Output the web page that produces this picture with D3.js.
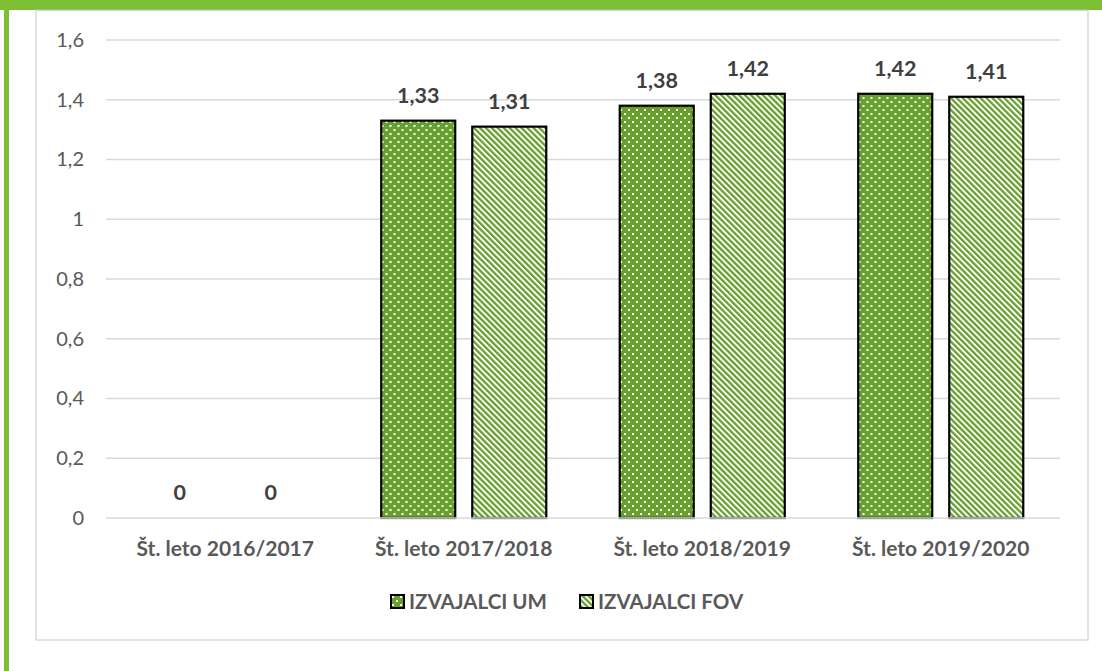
<!DOCTYPE html>
<html>
<head>
<meta charset="utf-8">
<script src="https://cdn.jsdelivr.net/npm/d3@7"></script>
<style>
  body { margin: 0; background: #fff; }
  text { font-family: Lato, "Open Sans", sans-serif; }
</style>
</head>
<body>
<div id="chart"></div>
<script>
// data
var categories = ["Št. leto 2016/2017", "Št. leto 2017/2018", "Št. leto 2018/2019", "Št. leto 2019/2020"];
var seriesNames = ["IZVAJALCI UM", "IZVAJALCI FOV"];
var umValues = [0, 1.33, 1.38, 1.42];
var fovValues = [0, 1.31, 1.42, 1.41];
var yTicks = [0, 0.2, 0.4, 0.6, 0.8, 1, 1.2, 1.4, 1.6];

function drawChart() {
  var svgWidth = 1102, svgHeight = 671;
  var green = "#7cbf35";
  var barGreen = "#67a02c";

  var svg = d3.select("#chart").append("svg")
    .attr("width", svgWidth)
    .attr("height", svgHeight);

  // patterns
  var defs = svg.append("defs");
  var dots = defs.append("pattern")
    .attr("id", "dots")
    .attr("patternUnits", "userSpaceOnUse")
    .attr("width", 8).attr("height", 8);
  dots.append("rect").attr("width", 8).attr("height", 8).attr("fill", barGreen);
  dots.append("rect").attr("x", 1).attr("y", 1).attr("width", 2).attr("height", 2).attr("fill", "#fff");
  dots.append("rect").attr("x", 5).attr("y", 5).attr("width", 2).attr("height", 2).attr("fill", "#fff");

  var stripes = defs.append("pattern")
    .attr("id", "stripes")
    .attr("patternUnits", "userSpaceOnUse")
    .attr("width", 4.2).attr("height", 4.2)
    .attr("patternTransform", "rotate(-45)");
  stripes.append("rect").attr("width", 4.2).attr("height", 4.2).attr("fill", "#fff");
  stripes.append("rect").attr("width", 2.3).attr("height", 4.2).attr("fill", barGreen);

  // frame decoration
  svg.append("rect").attr("x", 0).attr("y", 0).attr("width", svgWidth).attr("height", 10).attr("fill", green);
  svg.append("rect").attr("x", 4).attr("y", 0).attr("width", 5).attr("height", svgHeight).attr("fill", green);
  svg.append("rect")
    .attr("x", 36).attr("y", 10.5)
    .attr("width", 1052).attr("height", 629.5)
    .attr("fill", "#fff")
    .attr("stroke", "#d9d9d9")
    .attr("stroke-width", 1.5);

  var margin = { left: 106, right: 1060, top: 40, bottom: 518 };

  var y = d3.scaleLinear().domain([0, 1.6]).range([margin.bottom, margin.top]);
  var x0 = d3.scaleBand().domain(categories).range([margin.left, margin.right]).padding(0);
  var bw = x0.bandwidth();
  var x1 = d3.scaleBand().domain(seriesNames)
    .range([bw * 0.154, bw * 0.846])
    .paddingInner(0.187);

  var fmt = function(v) { return String(v).replace(".", ","); };

  // gridlines
  svg.append("g").selectAll("line")
    .data(yTicks.filter(function(d) { return d > 0; }))
    .enter().append("line")
    .attr("x1", margin.left).attr("x2", margin.right)
    .attr("y1", function(d) { return y(d); })
    .attr("y2", function(d) { return y(d); })
    .attr("stroke", "#d9d9d9")
    .attr("stroke-width", 1.5);

  // y axis labels
  var yAxis = d3.axisLeft(y).tickValues(yTicks).tickSize(0).tickPadding(0).tickFormat(fmt);
  var gy = svg.append("g").attr("transform", "translate(84,0)").call(yAxis);
  gy.select(".domain").remove();
  gy.selectAll("text")
    .attr("font-size", 20)
    .attr("fill", "#595959")
    .style("font-family", "Lato, sans-serif");

  // bars
  var rows = categories.map(function(c, i) {
    return { cat: c, vals: [
      { key: seriesNames[0], v: umValues[i], fill: "url(#dots)" },
      { key: seriesNames[1], v: fovValues[i], fill: "url(#stripes)" }
    ]};
  });

  var groups = svg.append("g").selectAll("g")
    .data(rows)
    .enter().append("g")
    .attr("transform", function(d) { return "translate(" + x0(d.cat) + ",0)"; });

  groups.selectAll("rect")
    .data(function(d) { return d.vals.filter(function(e) { return e.v > 0; }); })
    .enter().append("rect")
    .attr("x", function(d) { return x1(d.key); })
    .attr("y", function(d) { return y(d.v); })
    .attr("width", x1.bandwidth())
    .attr("height", function(d) { return margin.bottom - y(d.v); })
    .attr("fill", function(d) { return d.fill; })
    .attr("stroke", "#000")
    .attr("stroke-width", 2.2);

  groups.selectAll("text.val")
    .data(function(d) { return d.vals; })
    .enter().append("text")
    .attr("class", "val")
    .attr("x", function(d) { return x1(d.key) + x1.bandwidth() / 2; })
    .attr("y", function(d) { return y(d.v) - 18; })
    .attr("text-anchor", "middle")
    .attr("font-size", 21.5)
    .attr("font-weight", "bold")
    .attr("fill", "#404040")
    .text(function(d) { return fmt(d.v); });

  // x axis
  svg.append("line")
    .attr("x1", margin.left).attr("x2", margin.right)
    .attr("y1", margin.bottom).attr("y2", margin.bottom)
    .attr("stroke", "#d9d9d9")
    .attr("stroke-width", 1.5);

  var xAxis = d3.axisBottom(x0).tickSize(0).tickPadding(0);
  var gx = svg.append("g").attr("transform", "translate(0," + (margin.bottom + 38) + ")").call(xAxis);
  gx.select(".domain").remove();
  gx.selectAll("text")
    .attr("dy", 0)
    .attr("font-size", 21)
    .attr("font-weight", "bold")
    .attr("fill", "#595959")
    .style("font-family", "Lato, sans-serif");

  // legend
  var legendItems = [
    { name: seriesNames[0], fill: "url(#dots)", x: 391 },
    { name: seriesNames[1], fill: "url(#stripes)", x: 580 }
  ];
  var lg = svg.append("g").selectAll("g")
    .data(legendItems)
    .enter().append("g")
    .attr("transform", function(d) { return "translate(" + d.x + ",595)"; });
  lg.append("rect")
    .attr("x", 0).attr("y", 0)
    .attr("width", 13).attr("height", 13)
    .attr("fill", function(d) { return d.fill; })
    .attr("stroke", "#000")
    .attr("stroke-width", 2);
  lg.append("text")
    .attr("x", 18).attr("y", 13.5)
    .attr("font-size", 20.5)
    .attr("font-weight", "bold")
    .attr("fill", "#595959")
    .text(function(d) { return d.name; });
}

drawChart();
</script>
</body>
</html>
